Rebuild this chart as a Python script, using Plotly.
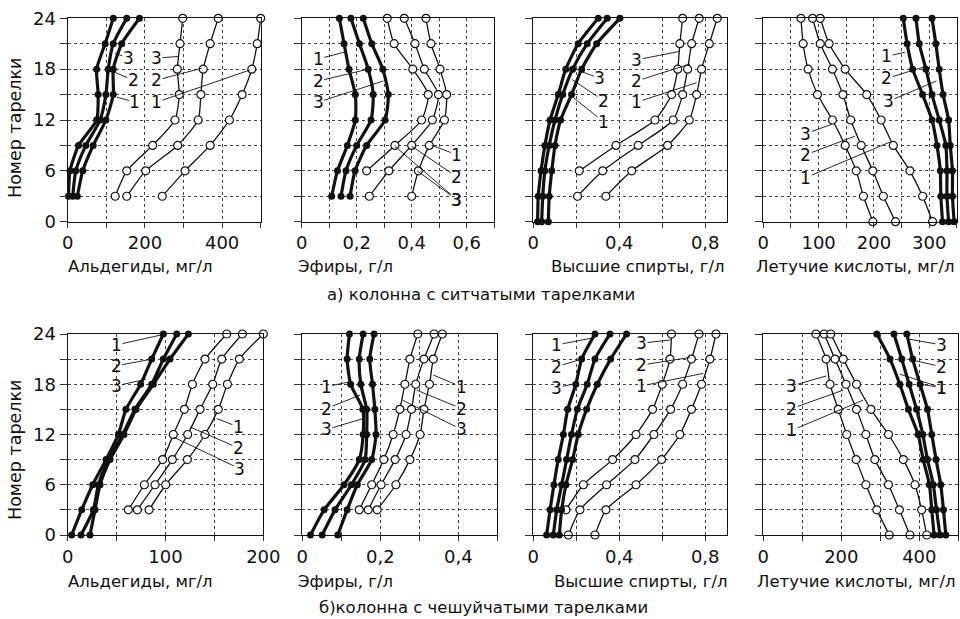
import plotly.graph_objects as go

# ---------------- data ----------------
TRAYS = [0, 3, 6, 9, 12, 15, 18, 21, 24]
TRAYS_3 = [3, 6, 9, 12, 15, 18, 21, 24]

# a) sieve-tray column
A_ALD_F1 = [2, 6, 28, 75, 79, 75, 97, 118]
A_ALD_F2 = [13, 21, 47, 84, 99, 105, 118, 153]
A_ALD_F3 = [25, 39, 66, 99, 118, 118, 140, 186]
A_ALD_O1 = [123, 153, 220, 278, 289, 284, 291, 298]
A_ALD_O2 = [153, 202, 285, 338, 345, 351, 369, 390]
A_ALD_O3 = [245, 304, 369, 419, 452, 477, 491, 500]

A_EST_F1 = [0.109, 0.130, 0.166, 0.195, 0.195, 0.172, 0.154, 0.137]
A_EST_F2 = [0.143, 0.161, 0.200, 0.252, 0.260, 0.242, 0.210, 0.179]
A_EST_F3 = [0.176, 0.194, 0.236, 0.303, 0.315, 0.295, 0.255, 0.224]
A_EST_O1 = [None, 0.236, 0.339, 0.436, 0.460, 0.404, 0.336, 0.311]
A_EST_O2 = [0.246, 0.317, 0.400, 0.475, 0.497, 0.446, 0.412, 0.373]
A_EST_O3 = [0.400, 0.424, 0.464, 0.519, 0.527, 0.503, 0.470, 0.452]

A_ALC_F1 = [0.020, 0.023, 0.036, 0.054, 0.078, 0.116, 0.151, 0.209, 0.302]
A_ALC_F2 = [0.039, 0.044, 0.054, 0.074, 0.101, 0.137, 0.183, 0.251, 0.344]
A_ALC_F3 = [0.070, 0.074, 0.086, 0.101, 0.127, 0.178, 0.225, 0.295, 0.403]
A_ALC_O1 = [None, None, 0.214, 0.385, 0.566, 0.644, 0.672, 0.682, 0.695]
A_ALC_O2 = [None, 0.206, 0.323, 0.488, 0.651, 0.695, 0.718, 0.737, 0.772]
A_ALC_O3 = [None, 0.338, 0.458, 0.625, 0.726, 0.760, 0.783, 0.819, 0.856]

A_ACI_O1 = [198, 181, 168, 148, 125, 98, 81, 72, 68]
A_ACI_O2 = [239, 217, 198, 177, 158, 144, 125, 103, 89]
A_ACI_O3 = [306, 288, 265, 235, 213, 187, 148, 119, 103]
A_ACI_F1 = [324, 321, 320, 314, 305, 288, 270, 260, 253]
A_ACI_F2 = [335, 332, 332, 330, 318, 305, 294, 282, 276]
A_ACI_F3 = [345, 342, 342, 338, 335, 325, 318, 312, 305]

# b) scale-tray column
B_ALD_F1 = [4.1, 14.3, 25.6, 39.2, 51.8, 59.6, 74.6, 85.9, 97.8]
B_ALD_F2 = [13.6, 26.2, 31.4, 41.6, 56.2, 68.8, 85.9, 97.8, 111.5]
B_ALD_F3 = [22.8, 27.9, 33.1, 43.3, 57.6, 69.9, 87.6, 104.6, 123.4]
B_ALD_O1 = [None, 62, 78.4, 97.1, 108, 119.3, 127.5, 140.4, 162.6]
B_ALD_O2 = [None, 71.2, 89.3, 107, 122.7, 135.3, 148.3, 157.5, 178.6]
B_ALD_O3 = [None, 83.2, 100.2, 122.4, 140.4, 154, 163.3, 175.5, 200]

B_EST_F1 = [0.021, 0.056, 0.107, 0.146, 0.156, 0.155, 0.124, 0.115, 0.121]
B_EST_F2 = [0.051, 0.084, 0.126, 0.161, 0.165, 0.165, 0.150, 0.146, 0.156]
B_EST_F3 = [0.091, 0.115, 0.141, 0.178, 0.189, 0.186, 0.180, 0.173, 0.184]
B_EST_O1 = [None, 0.146, 0.178, 0.209, 0.233, 0.250, 0.263, 0.276, 0.296]
B_EST_O2 = [None, 0.169, 0.202, 0.238, 0.266, 0.280, 0.291, 0.312, 0.338]
B_EST_O3 = [None, 0.192, 0.240, 0.276, 0.302, 0.312, 0.326, 0.336, 0.359]

B_ALC_F1 = [0.062, 0.078, 0.096, 0.116, 0.140, 0.160, 0.198, 0.225, 0.287]
B_ALC_F2 = [0.093, 0.109, 0.132, 0.155, 0.178, 0.205, 0.251, 0.287, 0.357]
B_ALC_F3 = [0.121, 0.132, 0.152, 0.183, 0.209, 0.248, 0.298, 0.360, 0.434]
B_ALC_O1 = [None, 0.152, 0.233, 0.369, 0.478, 0.555, 0.600, 0.636, 0.643]
B_ALC_O2 = [0.163, 0.217, 0.341, 0.473, 0.561, 0.639, 0.695, 0.736, 0.771]
B_ALC_O3 = [0.287, 0.338, 0.478, 0.597, 0.682, 0.736, 0.783, 0.822, 0.850]

B_ACI_O1 = [323, 291, 263, 238, 214, 192, 171, 161, 135]
B_ACI_O2 = [376, 349, 321, 286, 263, 239, 212, 184, 156]
B_ACI_O3 = [419, 406, 389, 359, 321, 276, 239, 205, 173]
B_ACI_F1 = [438, 432, 426, 410, 397, 372, 350, 325, 291]
B_ACI_F2 = [453, 444, 436, 421, 409, 393, 374, 355, 335]
B_ACI_F3 = [468, 462, 455, 443, 432, 421, 402, 383, 368]

X_TITLES = ["Альдегиды, мг/л", "Эфиры, г/л", "Высшие спирты, г/л", "Летучие кислоты, мг/л"]
Y_TITLE = "Номер тарелки"
SUB_A = "а) колонна с ситчатыми тарелками"
SUB_B = "б)колонна с чешуйчатыми тарелками"

# ---------------- layout helpers ----------------
FONT = "DejaVu Sans"
W, H = 960, 619


def px(xp):
    return xp / W


def py(yp):
    return 1 - yp / H


def ticks(step, n, labelled, fmt):
    vals = [round(i * step, 6) for i in range(n + 1)]
    txt = [fmt(v) if any(abs(v - l) < 1e-9 for l in labelled) else "" for v in vals]
    return vals, txt


def fnum(v):
    return str(int(v)) if abs(v - round(v)) < 1e-9 else ("%g" % v).replace(".", ",")


TOP = [221.7, 18.3]
BOT = [535.0, 334.0]

panels = [
    dict(dom=(67.7, 260.7), row=TOP, rng=[0, 500], t=ticks(100, 5, [0, 200, 400], fnum), tr=TRAYS_3,
         f=[A_ALD_F1, A_ALD_F2, A_ALD_F3], o=[A_ALD_O1, A_ALD_O2, A_ALD_O3],
         lab=[("3", 122, 19.9, 157, 19.3), ("2", 118, 17.7, 170, 16.7), ("1", 127, 14.7, 174, 14.1),
              ("3", 287, 19.5, 230, 19.3), ("2", 347, 18.1, 230, 16.7), ("1", 472, 17.9, 230, 14.1)]),
    dict(dom=(301.7, 494.2), row=TOP, rng=[0, 0.7], t=ticks(0.1, 7, [0, 0.2, 0.4, 0.6], fnum), tr=TRAYS_3,
         f=[A_EST_F1, A_EST_F2, A_EST_F3], o=[A_EST_O1, A_EST_O2, A_EST_O3],
         lab=[("1", 0.154, 20, 0.06, 19.2), ("2", 0.242, 18, 0.06, 16.6), ("3", 0.297, 16.6, 0.06, 14.1),
              ("1", 0.473, 9, 0.564, 7.9), ("2", 0.4, 8.9, 0.564, 5.3), ("3", 0.339, 8.9, 0.564, 2.6),
              ("3", 0.42, 6.0, 0.564, 2.6)]),
    dict(dom=(533.3, 726.7), row=TOP, rng=[0, 0.9], t=ticks(0.2, 4, [0, 0.4, 0.8], fnum), tr=TRAYS,
         f=[A_ALC_F1, A_ALC_F2, A_ALC_F3], o=[A_ALC_O1, A_ALC_O2, A_ALC_O3],
         lab=[("3", 0.225, 17.7, 0.31, 16.9), ("2", 0.179, 16.8, 0.326, 14.3), ("1", 0.179, 14.8, 0.326, 11.8),
              ("3", 0.682, 20.1, 0.481, 19.1), ("2", 0.729, 18.6, 0.481, 16.6), ("1", 0.76, 16.4, 0.481, 14.1)]),
    dict(dom=(763.3, 956.9), row=TOP, rng=[0, 350], t=ticks(50, 7, [0, 100, 200, 300], fnum), tr=TRAYS,
         f=[A_ACI_F1, A_ACI_F2, A_ACI_F3], o=[A_ACI_O1, A_ACI_O2, A_ACI_O3],
         lab=[("1", 256, 20, 223, 19.5), ("2", 292, 18.3, 223, 16.9), ("3", 313, 16.6, 226, 14.2),
              ("3", 124, 11.5, 77, 10.4), ("2", 166, 10.1, 77, 7.9), ("1", 229, 9.4, 77, 5.2)]),
    dict(dom=(67.7, 263.3), row=BOT, rng=[0, 200], t=ticks(50, 4, [0, 100, 200], fnum), tr=TRAYS,
         f=[B_ALD_F1, B_ALD_F2, B_ALD_F3], o=[B_ALD_O1, B_ALD_O2, B_ALD_O3],
         lab=[("1", 96, 23.9, 50, 22.7), ("2", 85.9, 21, 49.4, 20.2), ("3", 80, 18.6, 49.4, 17.8),
              ("1", 152.4, 13.9, 174.5, 12.9), ("2", 125, 12.9, 174.5, 10.4), ("3", 108, 11.7, 176, 7.9)]),
    dict(dom=(302.3, 497.3), row=BOT, rng=[0, 0.5], t=ticks(0.1, 5, [0, 0.2, 0.4], fnum), tr=TRAYS,
         f=[B_EST_F1, B_EST_F2, B_EST_F3], o=[B_EST_O1, B_EST_O2, B_EST_O3],
         lab=[("1", 0.122, 18.3, 0.062, 17.7), ("2", 0.148, 16.7, 0.062, 15.1), ("3", 0.156, 13.9, 0.062, 12.6),
              ("1", 0.336, 19.1, 0.408, 17.7), ("2", 0.293, 17.3, 0.408, 15.1), ("3", 0.257, 16.1, 0.408, 12.6)]),
    dict(dom=(533.3, 726.7), row=BOT, rng=[0, 0.9], t=ticks(0.2, 4, [0, 0.4, 0.8], fnum), tr=TRAYS,
         f=[B_ALC_F1, B_ALC_F2, B_ALC_F3], o=[B_ALC_O1, B_ALC_O2, B_ALC_O3],
         lab=[("1", 0.271, 23.5, 0.109, 22.7), ("2", 0.225, 21, 0.109, 20.1), ("3", 0.198, 18.1, 0.109, 17.6),
              ("3", 0.639, 23.3, 0.504, 22.9), ("2", 0.729, 21.2, 0.504, 20.3), ("1", 0.791, 19.3, 0.504, 17.8)]),
    dict(dom=(763.3, 958.3), row=BOT, rng=[0, 500], t=ticks(100, 5, [0, 200, 400], fnum), tr=TRAYS,
         f=[B_ACI_F1, B_ACI_F2, B_ACI_F3], o=[B_ACI_O1, B_ACI_O2, B_ACI_O3],
         lab=[("3", 372, 23.4, 457, 22.7), ("2", 380, 20.9, 457, 20.1), ("1", 350, 19.2, 457, 17.6),
              ("1", 402, 18, 457, 17.6),
              ("3", 162, 19, 73, 17.8), ("2", 205, 17.3, 73, 15.1), ("1", 256, 16.1, 73, 12.5)]),
]

fig = go.Figure()
annotations = []
layout = {}

for i, p in enumerate(panels):
    k = "" if i == 0 else str(i + 1)
    xa, ya = "x" + k, "y" + k
    first_col = i in (0, 4)
    layout["xaxis" + k] = dict(
        domain=[px(p["dom"][0]), px(p["dom"][1])], range=p["rng"], anchor=ya, automargin=False,
        tickmode="array", tickvals=p["t"][0], ticktext=p["t"][1],
        showline=True, mirror=True, linecolor="#111", linewidth=1.3,
        showgrid=True, gridcolor="#444", griddash="dot", gridwidth=1,
        zeroline=False, ticks="outside", ticklen=5, tickcolor="#333",
        tickfont=dict(family=FONT, size=18, color="#111"), fixedrange=True)
    layout["yaxis" + k] = dict(
        domain=[py(p["row"][0]), py(p["row"][1])], range=[0, 24], anchor=xa, automargin=False,
        tickmode="array", tickvals=TRAYS,
        ticktext=(["0", "", "6", "", "12", "", "18", "", "24"] if first_col else [""] * 9),
        showline=True, mirror=True, linecolor="#111", linewidth=1.3,
        showgrid=True, gridcolor="#444", griddash="dot", gridwidth=1,
        zeroline=False, ticks="outside", ticklen=7, tickcolor="#333",
        tickfont=dict(family=FONT, size=18, color="#111"), fixedrange=True)

    for s in p["o"]:
        fig.add_trace(go.Scatter(
            x=s, y=p["tr"], xaxis=xa, yaxis=ya, mode="lines+markers",
            line=dict(color="#111", width=1.3, shape="spline", smoothing=0.6),
            marker=dict(size=8, color="white", line=dict(color="#111", width=1.2)),
            cliponaxis=False, showlegend=False, hoverinfo="skip"))
    for s in p["f"]:
        fig.add_trace(go.Scatter(
            x=s, y=p["tr"], xaxis=xa, yaxis=ya, mode="lines+markers",
            line=dict(color="#111", width=3.2, shape="spline", smoothing=0.6),
            marker=dict(size=7, color="#111"),
            cliponaxis=False, showlegend=False, hoverinfo="skip"))

    for (txt, hx, hy, tx, ty) in p["lab"]:
        annotations.append(dict(
            text=txt, x=hx, y=hy, ax=tx, ay=ty, xref=xa, yref=ya, axref=xa, ayref=ya,
            showarrow=True, arrowhead=0, arrowwidth=0.9, arrowcolor="#111", standoff=0,
            borderpad=0, font=dict(family=FONT, size=17, color="#111")))

# axis titles
TITLE_X_TOP = [140, 345, 638, 855]
TITLE_X_BOT = [140, 345, 641, 856]
for j in range(4):
    annotations.append(dict(text=X_TITLES[j], x=px(TITLE_X_TOP[j]), y=py(266), xref="paper", yref="paper",
                            xanchor="center", yanchor="middle",
                            showarrow=False, font=dict(family=FONT, size=16.5, color="#111")))
    annotations.append(dict(text=X_TITLES[j], x=px(TITLE_X_BOT[j]), y=py(581), xref="paper", yref="paper",
                            xanchor="center", yanchor="middle",
                            showarrow=False, font=dict(family=FONT, size=16.5, color="#111")))
for yy in (128, 450):
    annotations.append(dict(text=Y_TITLE, x=px(15), y=py(yy), xref="paper", yref="paper", textangle=-90,
                            xanchor="center", yanchor="middle",
                            showarrow=False, font=dict(family=FONT, size=17.5, color="#111")))
annotations.append(dict(text=SUB_A, x=px(481), y=py(294), xref="paper", yref="paper",
                        xanchor="center", yanchor="middle",
                        showarrow=False, font=dict(family=FONT, size=16.5, color="#111")))
annotations.append(dict(text=SUB_B, x=px(483), y=py(607), xref="paper", yref="paper",
                        xanchor="center", yanchor="middle",
                        showarrow=False, font=dict(family=FONT, size=16.5, color="#111")))

fig.update_layout(**layout)
fig.update_layout(width=W, height=H, margin=dict(l=0, r=0, t=0, b=0, autoexpand=False),
                  paper_bgcolor="white", plot_bgcolor="white", annotations=annotations,
                  showlegend=False)
fig.write_html("out.html", config={"displayModeBar": False},
               post_script="document.body.style.margin='0';document.body.style.overflow='hidden';")
